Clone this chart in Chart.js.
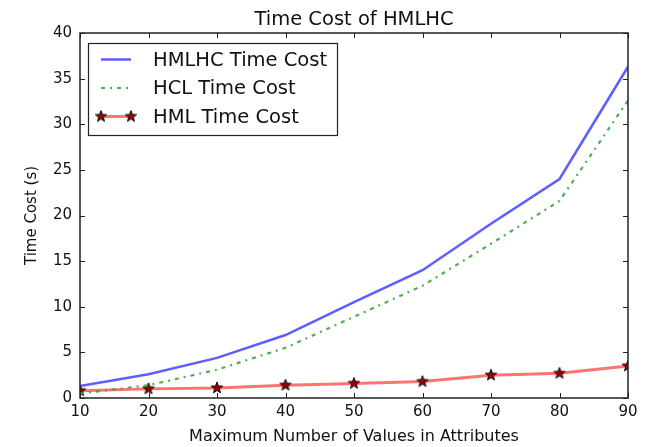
<!DOCTYPE html>
<html>
<head>
<meta charset="utf-8">
<script src="https://cdn.jsdelivr.net/npm/chart.js@4.4.0/dist/chart.umd.min.js"></script>
<style>
  html, body { margin: 0; padding: 0; background: #fff; }
  #wrap { width: 654px; height: 447px; }
</style>
</head>
<body>
<div id="wrap"><canvas id="c" width="654" height="447"></canvas></div>
<script>
const chartTitle = "Time Cost of HMLHC";
const xAxisTitle = "Maximum Number of Values in Attributes";
const yAxisTitle = "Time Cost (s)";
const xValues = [10, 20, 30, 40, 50, 60, 70, 80, 90];
const hmlhcTime = [1.3, 2.6, 4.4, 6.9, 10.5, 14.0, 19.1, 24.0, 36.3];
const hclTime = [0.5, 1.4, 3.1, 5.5, 8.9, 12.3, 16.9, 21.6, 32.6];
const hmlTime = [0.8, 1.0, 1.1, 1.4, 1.6, 1.8, 2.5, 2.7, 3.5];
const seriesLabels = ["HMLHC Time Cost", "HCL Time Cost", "HML Time Cost"];
const xTicks = [10, 20, 30, 40, 50, 60, 70, 80, 90];
const yTicks = [0, 5, 10, 15, 20, 25, 30, 35, 40];

const FONT = "'DejaVu Sans', sans-serif";

function makeStar(size) {
  const c = document.createElement('canvas');
  c.width = size; c.height = size;
  const g = c.getContext('2d');
  const cx = size / 2, cy = size / 2, R = size / 2 - 1, r = R * 0.42;
  g.beginPath();
  for (let i = 0; i < 10; i++) {
    const a = -Math.PI / 2 + i * Math.PI / 5;
    const rr = i % 2 === 0 ? R : r;
    const px = cx + rr * Math.cos(a), py = cy + rr * Math.sin(a);
    if (i === 0) g.moveTo(px, py); else g.lineTo(px, py);
  }
  g.closePath();
  g.fillStyle = '#9a0000';
  g.fill();
  g.lineWidth = 1;
  g.strokeStyle = '#111';
  g.stroke();
  return c;
}
const star = makeStar(14);

const colors = { blue: 'rgba(85,85,255,0.95)', green: 'rgba(60,165,60,0.9)', red: 'rgba(255,90,90,0.85)' };
const dashDot = [4, 5, 2, 5];

const framePlugin = {
  id: 'frame',
  afterDatasetsDraw(chart) {
    const { ctx, chartArea: a, scales } = chart;
    ctx.save();
    ctx.strokeStyle = '#222';
    ctx.lineWidth = 1.5;
    ctx.strokeRect(a.left, a.top, a.right - a.left, a.bottom - a.top);
    ctx.lineWidth = 1;
    const tl = 5;
    ctx.beginPath();
    xTicks.forEach(v => {
      const x = Math.round(scales.x.getPixelForValue(v)) + 0.5;
      ctx.moveTo(x, a.bottom); ctx.lineTo(x, a.bottom - tl);
      ctx.moveTo(x, a.top); ctx.lineTo(x, a.top + tl);
    });
    yTicks.forEach(v => {
      const y = Math.round(scales.y.getPixelForValue(v)) + 0.5;
      ctx.moveTo(a.left, y); ctx.lineTo(a.left + tl, y);
      ctx.moveTo(a.right, y); ctx.lineTo(a.right - tl, y);
    });
    ctx.stroke();
    ctx.restore();
  },
  afterDraw(chart) {
    const { ctx, chartArea: a } = chart;
    ctx.save();
    ctx.fillStyle = '#111';
    ctx.font = "19.5px " + FONT;
    ctx.textAlign = 'center';
    ctx.textBaseline = 'alphabetic';
    ctx.fillText(chartTitle, (a.left + a.right) / 2, 25);
    const bx = 88, by = 43, bw = 249, bh = 92;
    ctx.fillStyle = '#fff';
    ctx.fillRect(bx, by, bw, bh);
    ctx.strokeStyle = '#222';
    ctx.lineWidth = 1.2;
    ctx.strokeRect(bx + 0.5, by + 0.5, bw, bh);
    const rows = [59.5, 88, 116.5];
    const ds = chart.data.datasets;
    rows.forEach((ry, i) => {
      const d = ds[i];
      ctx.save();
      ctx.strokeStyle = d.borderColor;
      ctx.lineWidth = d.borderWidth;
      ctx.setLineDash(d.borderDash || []);
      ctx.beginPath();
      ctx.moveTo(101, ry); ctx.lineTo(131, ry);
      ctx.stroke();
      ctx.restore();
      if (i === 2) {
        ctx.drawImage(star, 101 - star.width / 2, ry - star.height / 2);
        ctx.drawImage(star, 131 - star.width / 2, ry - star.height / 2);
      }
      ctx.fillStyle = '#111';
      ctx.font = "19.5px " + FONT;
      ctx.textAlign = 'left';
      ctx.textBaseline = 'middle';
      ctx.fillText(d.label, 153, ry + 1);
    });
    ctx.restore();
  }
};

new Chart(document.getElementById('c'), {
  type: 'line',
  data: {
    labels: xValues,
    datasets: [
      { label: seriesLabels[0], data: xValues.map((x, i) => ({ x, y: hmlhcTime[i] })), borderColor: colors.blue, borderWidth: 2.5, pointRadius: 0, tension: 0, fill: false },
      { label: seriesLabels[1], data: xValues.map((x, i) => ({ x, y: hclTime[i] })), borderColor: colors.green, borderWidth: 2.2, borderDash: dashDot, pointRadius: 0, tension: 0, fill: false },
      { label: seriesLabels[2], data: xValues.map((x, i) => ({ x, y: hmlTime[i] })), borderColor: colors.red, borderWidth: 3, pointStyle: star, pointRadius: 7, tension: 0, fill: false }
    ]
  },
  options: {
    responsive: false,
    animation: false,
    devicePixelRatio: 1,
    layout: { padding: { top: 33, right: 26, left: 0, bottom: 0 } },
    plugins: { legend: { display: false }, title: { display: false }, tooltip: { enabled: false } },
    scales: {
      x: {
        type: 'linear', min: 10, max: 90,
        afterFit: s => { s.height = 49; },
        afterBuildTicks: s => { s.ticks = xTicks.map(v => ({ value: v })); },
        grid: { display: false, drawTicks: false },
        border: { display: false },
        ticks: { color: '#111', font: { family: FONT, size: 15 }, padding: 5, maxRotation: 0 },
        title: { display: true, text: xAxisTitle, color: '#111', font: { family: FONT, size: 16 }, padding: { top: 0, bottom: 1 } }
      },
      y: {
        type: 'linear', min: 0, max: 40,
        afterFit: s => { s.width = 80; },
        afterBuildTicks: s => { s.ticks = yTicks.map(v => ({ value: v })); },
        grid: { display: false, drawTicks: false },
        border: { display: false },
        ticks: { color: '#111', font: { family: FONT, size: 15 }, padding: 8 },
        title: { display: true, text: yAxisTitle, color: '#111', font: { family: FONT, size: 15 }, padding: { top: 23, bottom: 0 } }
      }
    }
  },
  plugins: [framePlugin]
});
</script>
</body>
</html>
